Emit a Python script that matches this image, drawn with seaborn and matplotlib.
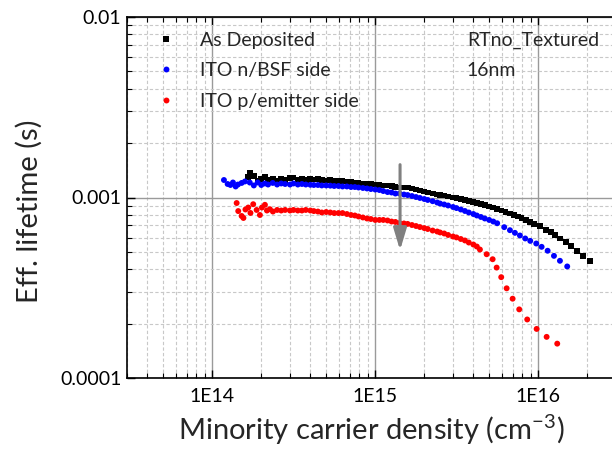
import matplotlib
matplotlib.use("Agg")
import matplotlib.pyplot as plt
from matplotlib.ticker import FixedLocator, FixedFormatter, LogLocator, NullFormatter
import pandas as pd
import seaborn as sns

# Sample names, colours and marker shapes
labels = ["As Deposited", "ITO n/BSF side", "ITO p/emitter side"]
colors = ["#000000", "#0000ff", "#ff0000"]
marker_shapes = ["s", "o", "o"]

# As deposited: minority carrier density (cm^-3) and effective lifetime (s)
dep_n = [1.65e14, 1.70e14, 1.80e14, 1.90e14, 2.0e14, 2.1e14, 2.2e14, 2.35e14,
         2.5e14, 2.65e14, 2.8e14, 3.0e14, 3.15e14, 3.35e14, 3.55e14, 3.75e14,
         4.0e14, 4.2e14, 4.45e14, 4.7e14, 5.0e14, 5.3e14, 5.6e14, 5.95e14,
         6.3e14, 6.7e14, 7.1e14, 7.5e14, 7.9e14, 8.4e14, 8.9e14, 9.4e14,
         1.0e15, 1.06e15, 1.12e15, 1.19e15, 1.26e15, 1.33e15, 1.41e15, 1.5e15,
         1.58e15, 1.68e15, 1.78e15, 1.88e15,
         2.0e15, 2.1e15, 2.25e15, 2.4e15, 2.5e15, 2.65e15, 2.8e15, 3.0e15,
         3.15e15, 3.35e15, 3.55e15, 3.75e15,
         4.0e15, 4.2e15, 4.45e15, 4.7e15, 5.0e15, 5.3e15, 5.6e15, 5.95e15,
         6.3e15, 6.7e15, 7.1e15, 7.5e15, 7.9e15, 8.4e15, 8.9e15, 9.4e15,
         1.024e16, 1.115e16, 1.192e16, 1.272e16, 1.359e16, 1.473e16, 1.594e16,
         1.728e16, 1.889e16, 2.076e16]
dep_tau = [1.30e-3, 1.37e-3, 1.31e-3, 1.24e-3, 1.26e-3, 1.30e-3, 1.25e-3, 1.27e-3,
           1.24e-3, 1.26e-3, 1.25e-3, 1.28e-3, 1.29e-3, 1.25e-3, 1.26e-3, 1.25e-3,
           1.265e-3, 1.258e-3, 1.262e-3, 1.250e-3, 1.242e-3, 1.245e-3, 1.235e-3, 1.233e-3,
           1.232e-3, 1.227e-3, 1.219e-3, 1.211e-3, 1.204e-3, 1.196e-3, 1.196e-3, 1.188e-3,
           1.180e-3, 1.173e-3, 1.166e-3, 1.166e-3, 1.158e-3, 1.143e-3, 1.136e-3, 1.136e-3,
           1.136e-3, 1.122e-3, 1.107e-3, 1.093e-3,
           1.079e-3, 1.066e-3, 1.052e-3, 1.039e-3, 1.032e-3, 1.026e-3, 1.013e-3, 1.000e-3,
           9.94e-4, 9.81e-4, 9.69e-4, 9.56e-4,
           9.44e-4, 9.32e-4, 9.20e-4, 9.09e-4, 8.92e-4, 8.80e-4, 8.63e-4, 8.47e-4,
           8.31e-4, 8.15e-4, 8.00e-4, 7.85e-4, 7.70e-4, 7.51e-4, 7.32e-4, 7.14e-4,
           6.93e-4, 6.59e-4, 6.42e-4, 6.18e-4, 5.93e-4, 5.68e-4, 5.37e-4,
           5.08e-4, 4.75e-4, 4.44e-4]

# ITO sputtered on the n/BSF side
bsf_n = [1.180e14, 1.243e14, 1.293e14, 1.340e14, 1.392e14, 1.438e14, 1.515e14, 1.587e14,
         1.70e14, 1.80e14, 1.90e14, 2.0e14, 2.1e14, 2.2e14, 2.35e14, 2.5e14,
         2.65e14, 2.8e14, 3.0e14, 3.15e14, 3.35e14, 3.55e14, 3.75e14,
         4.0e14, 4.2e14, 4.45e14, 4.7e14, 5.0e14, 5.3e14, 5.6e14, 5.95e14,
         6.3e14, 6.7e14, 7.1e14, 7.5e14, 7.9e14, 8.4e14, 8.9e14, 9.4e14,
         1.0e15, 1.06e15, 1.12e15, 1.19e15, 1.26e15, 1.33e15, 1.41e15, 1.5e15,
         1.58e15, 1.68e15, 1.78e15, 1.88e15,
         2.0e15, 2.1e15, 2.25e15, 2.4e15, 2.5e15, 2.65e15, 2.8e15, 3.0e15,
         3.15e15, 3.35e15, 3.55e15, 3.75e15,
         4.0e15, 4.2e15, 4.45e15, 4.7e15, 5.0e15, 5.3e15, 5.6e15,
         6.185e15, 6.706e15, 7.194e15, 7.721e15, 8.323e15, 8.932e15, 9.721e15,
         1.049e16, 1.142e16, 1.249e16, 1.359e16, 1.506e16]
bsf_tau = [1.250e-3, 1.188e-3, 1.173e-3, 1.211e-3, 1.151e-3, 1.180e-3, 1.204e-3, 1.227e-3,
           1.210e-3, 1.166e-3, 1.211e-3, 1.173e-3, 1.196e-3, 1.180e-3, 1.204e-3, 1.180e-3,
           1.196e-3, 1.188e-3, 1.180e-3, 1.196e-3, 1.180e-3, 1.188e-3, 1.180e-3,
           1.176e-3, 1.173e-3, 1.173e-3, 1.166e-3, 1.166e-3, 1.163e-3, 1.158e-3, 1.158e-3,
           1.151e-3, 1.151e-3, 1.143e-3, 1.143e-3, 1.136e-3, 1.129e-3, 1.122e-3, 1.114e-3,
           1.107e-3, 1.100e-3, 1.086e-3, 1.072e-3, 1.066e-3, 1.052e-3, 1.052e-3, 1.039e-3,
           1.032e-3, 1.019e-3, 1.006e-3, 9.94e-4,
           9.81e-4, 9.69e-4, 9.54e-4, 9.38e-4, 9.26e-4, 9.15e-4, 9.03e-4, 8.86e-4,
           8.74e-4, 8.58e-4, 8.42e-4, 8.26e-4,
           8.10e-4, 7.95e-4, 7.80e-4, 7.65e-4, 7.51e-4, 7.36e-4, 7.20e-4,
           6.85e-4, 6.59e-4, 6.37e-4, 6.16e-4, 5.93e-4, 5.75e-4, 5.56e-4,
           5.33e-4, 5.07e-4, 4.75e-4, 4.46e-4, 4.15e-4]

# ITO sputtered on the p/emitter side
emi_n = [1.412e14, 1.444e14, 1.515e14, 1.554e14, 1.599e14, 1.663e14, 1.716e14, 1.784e14,
         1.872e14, 1.961e14, 2.018e14, 2.105e14, 2.166e14, 2.259e14, 2.357e14,
         2.5e14, 2.65e14, 2.8e14, 3.0e14, 3.15e14, 3.35e14, 3.55e14, 3.75e14,
         4.0e14, 4.2e14, 4.45e14, 4.7e14, 5.0e14, 5.3e14, 5.6e14, 5.95e14,
         6.3e14, 6.7e14, 7.1e14, 7.5e14, 7.9e14, 8.4e14, 8.9e14, 9.4e14,
         1.0e15, 1.06e15, 1.12e15, 1.19e15, 1.26e15, 1.33e15, 1.41e15, 1.5e15,
         1.58e15, 1.68e15, 1.78e15, 1.88e15,
         2.0e15, 2.1e15, 2.25e15, 2.4e15, 2.5e15, 2.65e15, 2.8e15, 3.0e15,
         3.15e15, 3.35e15, 3.55e15, 3.75e15,
         4.0e15, 4.2e15,
         4.388e15, 4.824e15, 5.252e15, 5.558e15, 5.929e15, 6.400e15, 6.964e15,
         7.645e15, 8.561e15, 9.777e15, 1.126e16, 1.308e16]
emi_tau = [9.32e-4, 8.41e-4, 7.90e-4, 7.70e-4, 8.58e-4, 8.80e-4, 8.21e-4, 9.18e-4,
           8.53e-4, 8.00e-4, 8.80e-4, 9.11e-4, 8.47e-4, 8.61e-4, 8.36e-4,
           8.53e-4, 8.47e-4, 8.53e-4, 8.47e-4, 8.53e-4, 8.47e-4, 8.47e-4, 8.53e-4,
           8.47e-4, 8.41e-4, 8.36e-4, 8.26e-4, 8.31e-4, 8.26e-4, 8.20e-4, 8.20e-4,
           8.20e-4, 8.10e-4, 8.00e-4, 7.95e-4, 7.85e-4, 7.75e-4, 7.65e-4, 7.60e-4,
           7.51e-4, 7.51e-4, 7.51e-4, 7.46e-4, 7.36e-4, 7.32e-4, 7.22e-4, 7.18e-4,
           7.14e-4, 7.04e-4, 6.95e-4, 6.86e-4,
           6.77e-4, 6.69e-4, 6.56e-4, 6.48e-4, 6.40e-4, 6.32e-4, 6.20e-4, 6.08e-4,
           6.01e-4, 5.89e-4, 5.78e-4, 5.63e-4,
           5.49e-4, 5.35e-4,
           5.15e-4, 4.85e-4, 4.55e-4, 4.09e-4, 3.62e-4, 3.14e-4, 2.75e-4,
           2.40e-4, 2.11e-4, 1.87e-4, 1.69e-4, 1.55e-4]

# Axis ticks
x_ticks = [1e14, 1e15, 1e16]
x_tick_labels = ["1E14", "1E15", "1E16"]
y_ticks = [1e-4, 1e-3, 1e-2]
y_tick_labels = ["0.0001", "0.001", "0.01"]

frames = []
for name, n, tau in zip(labels, [dep_n, bsf_n, emi_n], [dep_tau, bsf_tau, emi_tau]):
    frames.append(pd.DataFrame({"n": n, "tau": tau, "sample": name}))
data = pd.concat(frames, ignore_index=True)

sns.set_theme(style="white")
plt.rcParams["font.family"] = ["Lato", "DejaVu Sans"]
plt.rcParams["mathtext.default"] = "regular"

fig = plt.figure(figsize=(6.12, 4.5), dpi=100)
ax = fig.add_axes([127 / 612, 72 / 450, 489 / 612, 361 / 450])

sns.scatterplot(data=data, x="n", y="tau", hue="sample", style="sample",
                hue_order=labels, style_order=labels,
                palette=dict(zip(labels, colors)),
                markers=dict(zip(labels, marker_shapes)),
                s=18, linewidth=0, ax=ax, zorder=3)

ax.set_xscale("log")
ax.set_yscale("log")
ax.set_xlim(3e13, 3e16)
ax.set_ylim(1e-4, 1e-2)

ax.xaxis.set_major_locator(FixedLocator(x_ticks))
ax.xaxis.set_major_formatter(FixedFormatter(x_tick_labels))
ax.yaxis.set_major_locator(FixedLocator(y_ticks))
ax.yaxis.set_major_formatter(FixedFormatter(y_tick_labels))
ax.xaxis.set_minor_locator(LogLocator(base=10, subs=range(2, 10), numticks=20))
ax.yaxis.set_minor_locator(LogLocator(base=10, subs=range(2, 10), numticks=20))
ax.xaxis.set_minor_formatter(NullFormatter())
ax.yaxis.set_minor_formatter(NullFormatter())

ax.grid(which="major", color="#9a9a9a", lw=1.0, ls="-")
ax.grid(which="minor", color="#c8c8c8", lw=0.8, ls=(0, (3, 2)))
ax.set_axisbelow(True)

ax.tick_params(which="both", direction="in", top=True, right=False,
               bottom=True, left=True, colors="black")
ax.tick_params(which="major", length=5.5, width=1.0, labelsize=14)
ax.tick_params(axis="x", which="major", pad=7)
ax.tick_params(axis="y", which="major", pad=4)
ax.tick_params(which="minor", length=3.5, width=0.8)
for side in ["left", "bottom", "top", "right"]:
    ax.spines[side].set_color("black")
    ax.spines[side].set_linewidth(1.2)

ax.set_xlabel("Minority carrier density (cm$^{-3}$)", fontsize=21, labelpad=6)
ax.set_ylabel("Eff. lifetime (s)", fontsize=21)
ax.yaxis.set_label_coords(-0.172, 0.463)

handles, names = ax.get_legend_handles_labels()
ax.legend(handles, names, loc="upper left", bbox_to_anchor=(0.0613, 0.959),
          frameon=False, fontsize=14, handlelength=0.95, handletextpad=1.25,
          labelspacing=0.69, borderpad=0, borderaxespad=0, markerscale=1.0)

ax.text(0.695, 0.936, "RTno_Textured", transform=ax.transAxes,
        va="center", ha="left", fontsize=14)
ax.text(0.695, 0.853, "16nm", transform=ax.transAxes,
        va="center", ha="left", fontsize=14)

# Downward arrow marking the lifetime drop after sputtering
arrow_x = 1.42e15
arrow_top = 1.52e-3
arrow_tip = 5.1e-4
ax.annotate("", xy=(arrow_x, arrow_tip), xytext=(arrow_x, arrow_top),
            arrowprops=dict(arrowstyle="-|>,head_length=1.1,head_width=0.33",
                            mutation_scale=12, color="#808080", lw=2.2,
                            shrinkA=0, shrinkB=0), zorder=4)

fig.savefig("out.png", dpi=100)
